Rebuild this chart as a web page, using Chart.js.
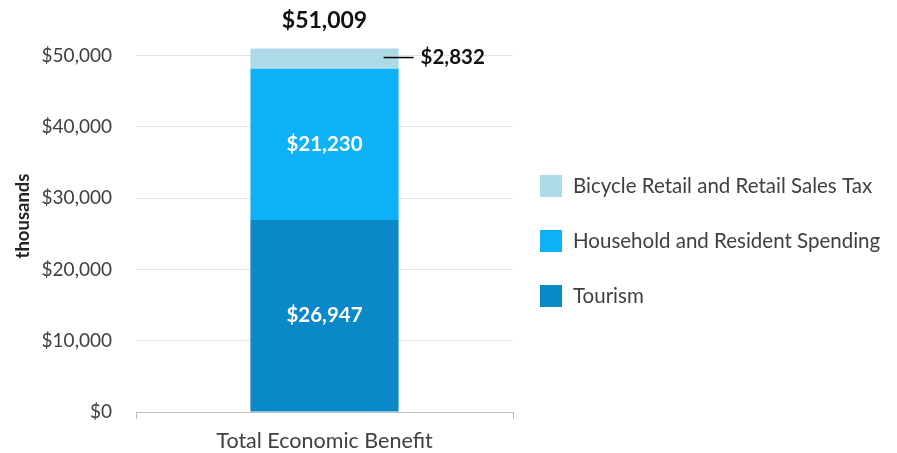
<!DOCTYPE html>
<html>
<head>
<meta charset="utf-8">
<script src="https://cdn.jsdelivr.net/npm/chart.js@4.4.1/dist/chart.umd.min.js"></script>
<style>
  html, body { margin: 0; padding: 0; background: #ffffff; }
  #wrap { width: 897px; height: 453px; position: relative; }
</style>
</head>
<body>
<div id="wrap"><canvas id="c"></canvas></div>
<script>
const categories = ['Total Economic Benefit'];
const seriesNames = ['Tourism', 'Household and Resident Spending', 'Bicycle Retail and Retail Sales Tax'];
const tourism = [26947];
const household = [21230];
const bicycle = [2832];
const yTickValues = [0, 10000, 20000, 30000, 40000, 50000];
const yAxisTitle = 'thousands';

const colors = ['#0a88c8', '#0cb1f6', '#acdae6'];
const FONT = 'Lato, "Open Sans", sans-serif';

function money(v) { return '$' + Math.round(v).toLocaleString('en-US'); }

const labelPlugin = {
  id: 'barLabels',
  afterDatasetsDraw(chart) {
    const ctx = chart.ctx;
    ctx.save();
    const metas = [0, 1, 2].map(i => chart.getDatasetMeta(i));
    [0, 1].forEach(di => {
      metas[di].data.forEach((el, idx) => {
        const v = chart.data.datasets[di].data[idx];
        ctx.font = 'bold 20.5px ' + FONT;
        ctx.fillStyle = '#ffffff';
        ctx.textAlign = 'center';
        ctx.textBaseline = 'middle';
        ctx.fillText(money(v), el.x, (el.y + el.base) / 2);
      });
    });
    metas[2].data.forEach((el, idx) => {
      const v = chart.data.datasets[2].data[idx];
      const ym = (el.y + el.base) / 2 - 1;
      const right = el.x + el.width / 2;
      ctx.strokeStyle = '#000000';
      ctx.lineWidth = 1.5;
      ctx.beginPath();
      ctx.moveTo(right - 15, ym);
      ctx.lineTo(right + 15, ym);
      ctx.stroke();
      ctx.font = 'bold 20.5px ' + FONT;
      ctx.fillStyle = '#111111';
      ctx.textAlign = 'left';
      ctx.textBaseline = 'middle';
      ctx.fillText(money(v), right + 22, ym);
      let total = 0;
      chart.data.datasets.forEach(ds => { total += ds.data[idx]; });
      ctx.font = 'bold 23px ' + FONT;
      ctx.textAlign = 'center';
      ctx.textBaseline = 'middle';
      ctx.fillText(money(total), el.x, chart.scales.y.getPixelForValue(total) - 28);
    });
    ctx.restore();
  },
  afterDraw(chart) {
    const ctx = chart.ctx;
    ctx.save();
    const n = chart.data.datasets.length;
    const x0 = chart.chartArea.right + 27;
    const y0 = 186, step = 55, box = 22;
    for (let i = 0; i < n; i++) {
      const ds = chart.data.datasets[n - 1 - i];
      const yc = y0 + i * step;
      ctx.fillStyle = ds.backgroundColor;
      ctx.fillRect(x0, yc - box / 2, box, box);
      ctx.font = '20.5px ' + FONT;
      ctx.fillStyle = '#404040';
      ctx.textAlign = 'left';
      ctx.textBaseline = 'middle';
      ctx.fillText(ds.label, x0 + 33, yc);
    }
    ctx.restore();
  }
};

new Chart(document.getElementById('c'), {
  type: 'bar',
  data: {
    labels: categories,
    datasets: [
      { label: seriesNames[0], data: tourism, backgroundColor: colors[0] },
      { label: seriesNames[1], data: household, backgroundColor: colors[1] },
      { label: seriesNames[2], data: bicycle, backgroundColor: colors[2] }
    ]
  },
  options: {
    responsive: true,
    maintainAspectRatio: false,
    animation: false,
    layout: { padding: { top: 20, left: 8, right: 384, bottom: 0 } },
    datasets: { bar: { barPercentage: 0.393, categoryPercentage: 1.0 } },
    plugins: {
      tooltip: { enabled: false },
      legend: { display: false }
    },
    scales: {
      x: {
        stacked: true,
        offset: true,
        afterFit(scale) { scale.height = 41; },
        grid: { display: true, drawOnChartArea: false, drawTicks: true, tickLength: 7, color: '#bfbfbf', offset: true },
        border: { display: true, color: '#bfbfbf', width: 1 },
        ticks: { color: '#404040', font: { family: FONT, size: 21.5 }, padding: 9 }
      },
      y: {
        stacked: true,
        min: 0,
        max: 55000,
        afterFit(scale) { scale.width = 128; scale.paddingTop = 0; scale.paddingBottom = 0; },
        afterBuildTicks(axis) { axis.ticks = yTickValues.map(v => ({ value: v })); },
        grid: { color: '#e3e3e3', drawTicks: false, lineWidth: 1 },
        border: { display: false },
        ticks: { color: '#404040', font: { family: FONT, size: 19 }, padding: 24, callback: v => money(v) },
        title: { display: true, text: yAxisTitle, color: '#222222', font: { family: FONT, size: 18.5, weight: 'bold' }, padding: { bottom: 2 } }
      }
    }
  },
  plugins: [labelPlugin]
});
</script>
</body>
</html>
